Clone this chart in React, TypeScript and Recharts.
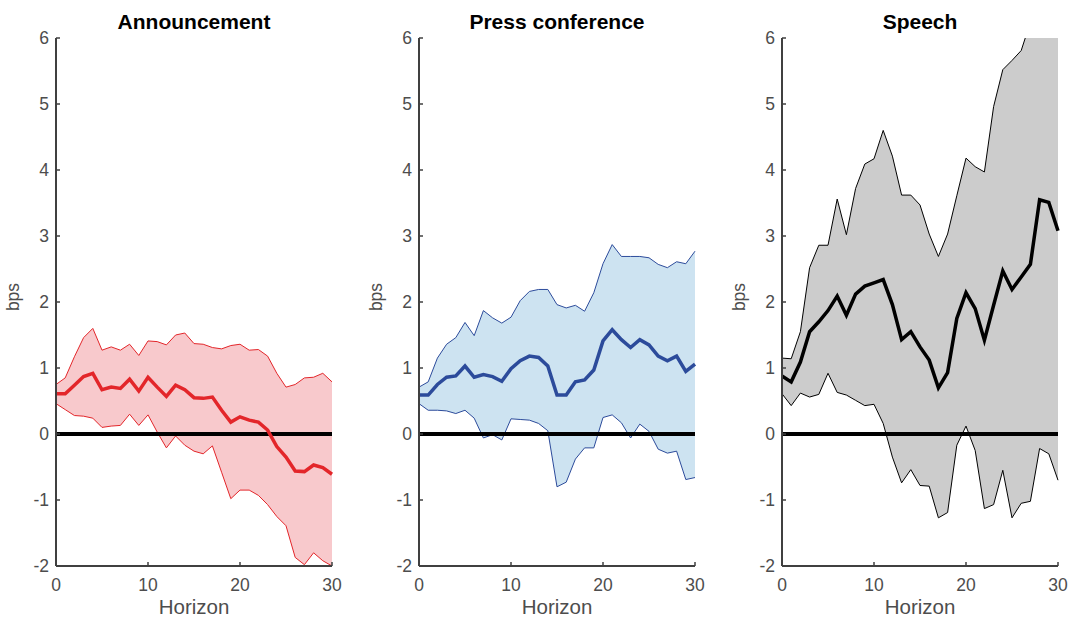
import React from 'react';
import { ComposedChart, Area, Line, XAxis, YAxis, ReferenceLine } from 'recharts';

const horizon = [0, 1, 2, 3, 4, 5, 6, 7, 8, 9, 10, 11, 12, 13, 14, 15, 16, 17, 18, 19, 20, 21, 22, 23, 24, 25, 26, 27, 28, 29, 30];

const announceMean = [0.61, 0.61, 0.74, 0.87, 0.92, 0.67, 0.71, 0.69, 0.83, 0.65, 0.86, 0.71, 0.57, 0.74, 0.67, 0.55, 0.54, 0.56, 0.36, 0.18, 0.26, 0.21, 0.18, 0.06, -0.19, -0.35, -0.56, -0.57, -0.47, -0.51, -0.61];
const announceHi = [0.75, 0.85, 1.17, 1.46, 1.6, 1.27, 1.32, 1.27, 1.36, 1.19, 1.41, 1.4, 1.35, 1.5, 1.53, 1.37, 1.36, 1.31, 1.29, 1.34, 1.36, 1.27, 1.28, 1.18, 0.92, 0.71, 0.75, 0.85, 0.86, 0.92, 0.79];
const announceLo = [0.46, 0.37, 0.28, 0.27, 0.24, 0.1, 0.12, 0.13, 0.3, 0.13, 0.29, 0.03, -0.21, -0.03, -0.17, -0.26, -0.3, -0.18, -0.58, -0.98, -0.85, -0.85, -0.93, -1.07, -1.25, -1.39, -1.87, -1.98, -1.8, -1.92, -2.0];

const pressMean = [0.59, 0.59, 0.75, 0.86, 0.88, 1.03, 0.86, 0.9, 0.87, 0.8, 0.99, 1.11, 1.18, 1.16, 1.03, 0.59, 0.59, 0.79, 0.82, 0.97, 1.41, 1.58, 1.43, 1.31, 1.43, 1.35, 1.18, 1.11, 1.18, 0.95, 1.06];
const pressHi = [0.71, 0.79, 1.15, 1.36, 1.46, 1.69, 1.49, 1.87, 1.76, 1.68, 1.77, 2.02, 2.16, 2.19, 2.19, 1.96, 1.91, 1.95, 1.86, 2.14, 2.58, 2.87, 2.69, 2.69, 2.69, 2.67, 2.57, 2.52, 2.61, 2.58, 2.77];
const pressLo = [0.46, 0.36, 0.36, 0.35, 0.31, 0.36, 0.24, -0.06, -0.01, -0.09, 0.23, 0.22, 0.21, 0.16, 0.05, -0.8, -0.73, -0.38, -0.21, -0.21, 0.25, 0.29, 0.17, -0.06, 0.15, 0.04, -0.23, -0.29, -0.26, -0.69, -0.66];

const speechMean = [0.88, 0.79, 1.09, 1.55, 1.7, 1.87, 2.09, 1.8, 2.12, 2.24, 2.29, 2.34, 1.96, 1.43, 1.55, 1.32, 1.12, 0.7, 0.93, 1.75, 2.14, 1.9, 1.42, 1.95, 2.47, 2.19, 2.38, 2.57, 3.55, 3.51, 3.08];
const speechHi = [1.15, 1.14, 1.55, 2.52, 2.86, 2.86, 3.56, 3.02, 3.72, 4.09, 4.17, 4.6, 4.21, 3.62, 3.62, 3.47, 3.03, 2.69, 3.03, 3.61, 4.18, 4.05, 3.97, 4.96, 5.52, 5.66, 5.81, 6.24, 6.45, 6.6, 6.7];
const speechLo = [0.61, 0.43, 0.62, 0.56, 0.6, 0.92, 0.63, 0.59, 0.51, 0.43, 0.45, 0.16, -0.35, -0.74, -0.54, -0.78, -0.79, -1.27, -1.19, -0.17, 0.12, -0.25, -1.13, -1.07, -0.55, -1.27, -1.05, -1.02, -0.22, -0.3, -0.7];

const yTicks = [-2, -1, 0, 1, 2, 3, 4, 5, 6];
const xTicks = [0, 10, 20, 30];

const axisColor = '#404040';
const labelColor = '#4d4d4d';
const font = '"Liberation Sans", Arial, sans-serif';

const YTick = (props: any) => {
  const { x, y, payload } = props;
  return (
    <g>
      <line x1={x} x2={x + 4} y1={y} y2={y} stroke={axisColor} strokeWidth={1.5} />
      <text x={x - 7} y={y} dy="0.35em" textAnchor="end" fontSize={17.5} fontFamily={font} fill={labelColor}>
        {payload.value}
      </text>
    </g>
  );
};

const XTick = (props: any) => {
  const { x, y, payload } = props;
  return (
    <g>
      <line x1={x} x2={x} y1={y} y2={y - 4} stroke={axisColor} strokeWidth={1.5} />
      <text x={x} y={y + 12} dy="0.72em" textAnchor="middle" fontSize={17.5} fontFamily={font} fill={labelColor}>
        {payload.value}
      </text>
    </g>
  );
};

const BpsLabel = (props: any) => {
  const { viewBox } = props;
  const cx = viewBox.x + 19;
  const cy = viewBox.y + viewBox.height / 2 - 5;
  return (
    <text x={cx} y={cy} transform={`rotate(-90 ${cx} ${cy})`} textAnchor="middle" fontSize={17.5} fontFamily={font} fill={labelColor}>
      bps
    </text>
  );
};

const HorizonLabel = (props: any) => {
  const { viewBox } = props;
  const cx = viewBox.x + viewBox.width / 2;
  return (
    <text x={cx} y={viewBox.y + 48} textAnchor="middle" fontSize={20.5} fontFamily={font} fill={labelColor}>
      Horizon
    </text>
  );
};

interface PanelProps {
  title: string;
  left: number;
  mean: number[];
  lo: number[];
  hi: number[];
  line: string;
  fill: string;
}

const Panel: React.FC<PanelProps> = ({ title, left, mean, lo, hi, line, fill }) => {
  const data = horizon.map((h, i) => ({
    h,
    mean: mean[i],
    lo: lo[i],
    hi: hi[i],
    band: [lo[i], hi[i]],
  }));

  return (
    <div style={{ position: 'absolute', left, top: 0, width: 344, height: 619 }}>
      <div
        style={{
          position: 'absolute',
          left: 56,
          width: 276,
          top: 10,
          textAlign: 'center',
          fontFamily: font,
          fontWeight: 'bold',
          fontSize: 21,
          color: '#000',
        }}
      >
        {title}
      </div>
      <ComposedChart width={344} height={619} data={data} margin={{ top: 38, left: 0, right: 12, bottom: 0 }}>
        <XAxis
          dataKey="h"
          type="number"
          domain={[0, 30]}
          ticks={xTicks}
          height={53}
          tickSize={0}
          tickMargin={0}
          tick={<XTick />}
          tickLine={false}
          stroke={axisColor}
          strokeWidth={2}
          label={<HorizonLabel />}
        />
        <YAxis
          type="number"
          domain={[-2, 6]}
          ticks={yTicks}
          allowDataOverflow
          width={56}
          tickSize={0}
          tickMargin={0}
          tick={<YTick />}
          tickLine={false}
          stroke={axisColor}
          strokeWidth={2}
          label={<BpsLabel />}
        />
        <Area type="linear" dataKey="band" stroke="none" fill={fill} fillOpacity={1} isAnimationActive={false} />
        <Line type="linear" dataKey="hi" stroke={line} strokeWidth={1} dot={false} isAnimationActive={false} />
        <Line type="linear" dataKey="lo" stroke={line} strokeWidth={1} dot={false} isAnimationActive={false} />
        <ReferenceLine y={0} stroke="#000" strokeWidth={4} />
        <Line type="linear" dataKey="mean" stroke={line} strokeWidth={3.5} dot={false} isAnimationActive={false} />
      </ComposedChart>
    </div>
  );
};

export default function App() {
  return (
    <div style={{ position: 'absolute', left: 0, top: 0, width: 1070, height: 619, overflow: 'hidden', background: '#fff' }}>
      <Panel title="Announcement" left={0} mean={announceMean} lo={announceLo} hi={announceHi} line="#e3262a" fill="#f8c9cc" />
      <Panel title="Press conference" left={363} mean={pressMean} lo={pressLo} hi={pressHi} line="#2c4b9b" fill="#cde3f1" />
      <Panel title="Speech" left={726} mean={speechMean} lo={speechLo} hi={speechHi} line="#000000" fill="#cccccc" />
    </div>
  );
}
